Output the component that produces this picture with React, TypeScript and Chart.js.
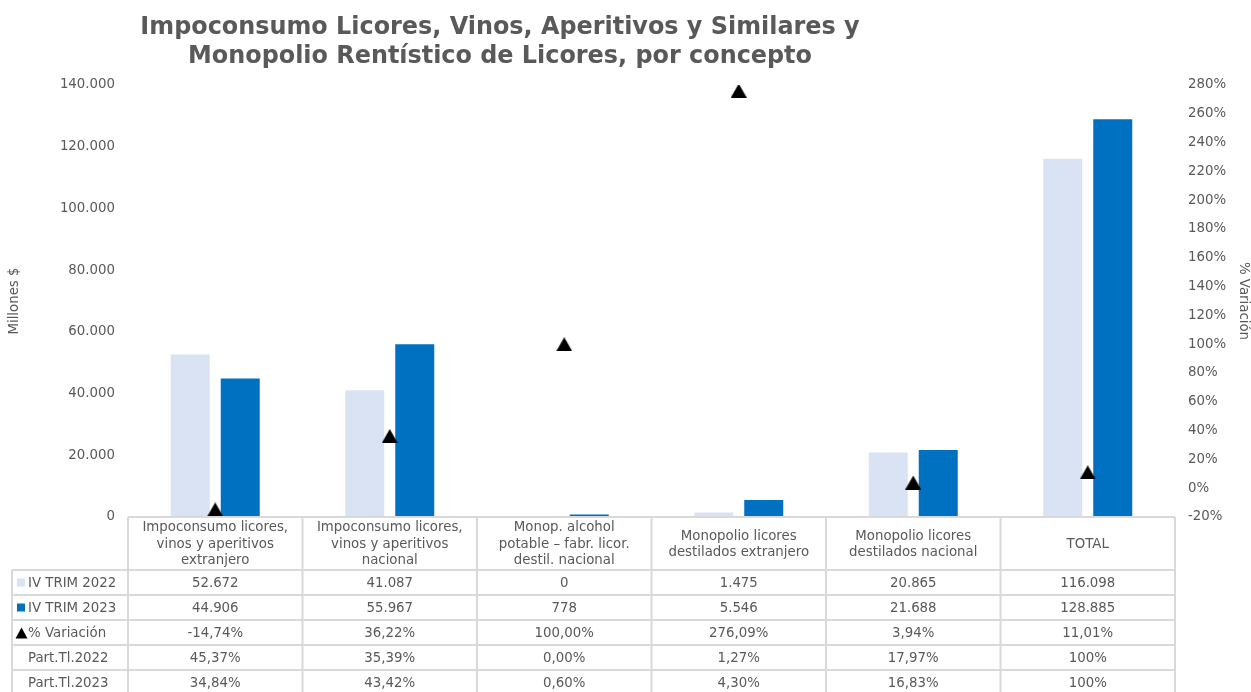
import React, { useEffect, useRef } from 'react';
import { Chart, registerables } from 'chart.js';

Chart.register(...registerables);

const titleLines = [
  'Impoconsumo Licores, Vinos, Aperitivos y Similares y',
  'Monopolio Rentístico de Licores, por concepto',
];
const categories: string[][] = [
  ['Impoconsumo licores,', 'vinos y aperitivos', 'extranjero'],
  ['Impoconsumo licores,', 'vinos y aperitivos', 'nacional'],
  ['Monop. alcohol', 'potable – fabr. licor.', 'destil. nacional'],
  ['Monopolio licores', 'destilados extranjero'],
  ['Monopolio licores', 'destilados nacional'],
  ['TOTAL'],
];
const seriesNames = ['IV TRIM 2022', 'IV TRIM 2023', '% Variación', 'Part.Tl.2022', 'Part.Tl.2023'];
const trim2022 = [52672, 41087, 0, 1475, 20865, 116098];
const trim2023 = [44906, 55967, 778, 5546, 21688, 128885];
const variacion = [-14.74, 36.22, 100.0, 276.09, 3.94, 11.01];
const part2022 = [45.37, 35.39, 0.0, 1.27, 17.97, 100];
const part2023 = [34.84, 43.42, 0.6, 4.3, 16.83, 100];

const COLOR_2022 = '#DAE3F3';
const COLOR_2023 = '#0070C0';
const TEXT = '#595959';
const GRID = '#D9D9D9';
const FONT = '"DejaVu Sans", Verdana, sans-serif';

const fmtInt = (v: number) => Math.round(v).toString().replace(/\B(?=(\d{3})+(?!\d))/g, '.');
const fmtPct = (v: number) => v.toFixed(2).replace('.', ',') + '%';
const fmtPart = (v: number) => (v === 100 ? '100%' : fmtPct(v));

function makeTriangle(): HTMLCanvasElement {
  const c = document.createElement('canvas');
  c.width = 16;
  c.height = 14;
  const g = c.getContext('2d')!;
  g.fillStyle = '#000';
  g.beginPath();
  g.moveTo(8, 0);
  g.lineTo(16, 14);
  g.lineTo(0, 14);
  g.closePath();
  g.fill();
  return c;
}

const tablePlugin = {
  id: 'tablePlugin',
  afterDraw(chart: any) {
    const ctx = chart.ctx;
    const area = chart.chartArea;
    const x = chart.scales.x;
    const n = categories.length;
    const colW = (area.right - area.left) / n;
    const top = area.bottom;
    const headH = 53;
    const rowH = 25;
    const legendLeft = 12;
    const rows = [
      trim2022.map(fmtInt),
      trim2023.map(fmtInt),
      variacion.map(fmtPct),
      part2022.map(fmtPart),
      part2023.map(fmtPart),
    ];
    ctx.save();
    ctx.fillStyle = TEXT;
    ctx.font = `13.33px ${FONT}`;
    ctx.textAlign = 'center';
    ctx.textBaseline = 'middle';
    const lineH = 16.5;
    categories.forEach((lines, i) => {
      const cx = x.getPixelForValue(i);
      const cy = top + headH / 2 + 1;
      lines.forEach((l, j) => {
        ctx.fillText(l, cx, cy + (j - (lines.length - 1) / 2) * lineH);
      });
    });
    rows.forEach((r, ri) => {
      const cy = top + headH + ri * rowH + rowH / 2 + 1;
      r.forEach((t, i) => {
        ctx.fillText(t, x.getPixelForValue(i), cy);
      });
      ctx.textAlign = 'left';
      ctx.fillText(seriesNames[ri], legendLeft + 16, cy);
      ctx.textAlign = 'center';
      if (ri === 0 || ri === 1) {
        ctx.fillStyle = ri === 0 ? COLOR_2022 : COLOR_2023;
        ctx.fillRect(legendLeft + 5, cy - 5, 8, 8);
        ctx.fillStyle = TEXT;
      } else if (ri === 2) {
        ctx.fillStyle = '#000';
        ctx.beginPath();
        ctx.moveTo(legendLeft + 9.5, cy - 6);
        ctx.lineTo(legendLeft + 15.5, cy + 5);
        ctx.lineTo(legendLeft + 3.5, cy + 5);
        ctx.closePath();
        ctx.fill();
        ctx.fillStyle = TEXT;
      }
    });
    ctx.strokeStyle = GRID;
    ctx.lineWidth = 2;
    ctx.beginPath();
    const bottom = top + headH + rows.length * rowH;
    ctx.moveTo(area.left, top);
    ctx.lineTo(area.right, top);
    for (let r = 0; r <= rows.length; r++) {
      const yy = top + headH + r * rowH;
      ctx.moveTo(legendLeft, yy);
      ctx.lineTo(area.right, yy);
    }
    ctx.moveTo(legendLeft, top + headH);
    ctx.lineTo(legendLeft, bottom);
    for (let i = 0; i <= n; i++) {
      const xx = area.left + i * colW;
      ctx.moveTo(xx, top);
      ctx.lineTo(xx, bottom);
    }
    ctx.stroke();
    ctx.restore();
  },
};

const titlePlugin = {
  id: 'titlePlugin',
  afterDraw(chart: any) {
    const ctx = chart.ctx;
    ctx.save();
    ctx.fillStyle = TEXT;
    ctx.font = `bold 23.9px ${FONT}`;
    ctx.textAlign = 'center';
    ctx.textBaseline = 'middle';
    titleLines.forEach((l, i) => ctx.fillText(l, 500, 28 + i * 29));
    ctx.restore();
  },
};

export default function App() {
  const ref = useRef<HTMLCanvasElement>(null);
  useEffect(() => {
    if (!ref.current) return;
    const tri = makeTriangle();
    const chart = new Chart(ref.current, {
      type: 'bar',
      data: {
        labels: categories.map((c) => c.join(' ')),
        datasets: [
          {
            type: 'line',
            label: seriesNames[2],
            data: variacion,
            yAxisID: 'y1',
            showLine: false,
            pointStyle: tri,
            pointRadius: 8,
            pointHoverRadius: 8,
            backgroundColor: '#000',
            borderColor: '#000',
            borderWidth: 0,
            order: 0,
          } as any,
          {
            label: seriesNames[0],
            data: trim2022,
            backgroundColor: COLOR_2022,
            yAxisID: 'y',
            categoryPercentage: 0.573,
            barPercentage: 0.78,
            order: 1,
          },
          {
            label: seriesNames[1],
            data: trim2023,
            backgroundColor: COLOR_2023,
            yAxisID: 'y',
            categoryPercentage: 0.573,
            barPercentage: 0.78,
            order: 1,
          },
        ],
      },
      options: {
        responsive: false,
        animation: false,
        layout: { padding: { left: 0, right: 0, top: 85, bottom: 175 } },
        plugins: {
          legend: { display: false },
          title: { display: false },
          tooltip: { enabled: false },
        },
        scales: {
          x: {
            display: false,
            grid: { display: false },
          },
          y: {
            position: 'left',
            min: 0,
            max: 140000,
            border: { display: false },
            grid: { display: false, drawTicks: false },
            ticks: {
              stepSize: 20000,
              padding: 13,
              color: TEXT,
              font: { family: FONT, size: 13.33 },
              callback: (v: any) => fmtInt(Number(v)),
            },
            title: {
              display: true,
              text: 'Millones $',
              color: TEXT,
              font: { family: FONT, size: 13.33 },
              padding: { top: 7, bottom: 0 },
            },
            afterFit: (s: any) => {
              s.width = 128;
            },
          },
          y1: {
            position: 'right',
            min: -20,
            max: 280,
            border: { display: false },
            grid: { display: false, drawTicks: false },
            ticks: {
              stepSize: 20,
              padding: 13,
              color: TEXT,
              font: { family: FONT, size: 13.33 },
              callback: (v: any) => `${v}%`,
            },
            title: {
              display: true,
              text: '% Variación',
              color: TEXT,
              font: { family: FONT, size: 13.33 },
              padding: { top: 0, bottom: 2 },
            },
            afterFit: (s: any) => {
              s.width = 76;
            },
          },
        },
      },
      plugins: [tablePlugin, titlePlugin],
    });
    return () => chart.destroy();
  }, []);
  return (
    <div style={{ position: 'absolute', left: 0, top: 0, width: 1251, height: 692, background: '#fff' }}>
      <canvas ref={ref} width={1251} height={692} />
    </div>
  );
}
